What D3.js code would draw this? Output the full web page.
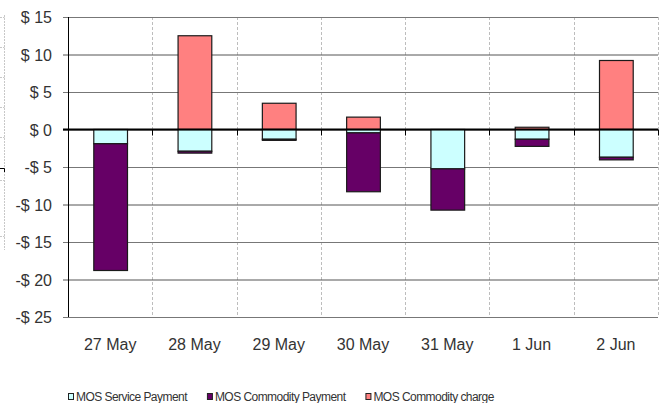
<!DOCTYPE html>
<html>
<head>
<meta charset="utf-8">
<script src="https://cdn.jsdelivr.net/npm/d3@7"></script>
<style>
  body { margin: 0; background: #fff; }
  svg { display: block; font-family: "Liberation Sans", Arial, sans-serif; }
  .axis text { fill: #333; font-size: 16px; }
  .legend text { fill: #333; font-size: 12px; letter-spacing: -0.55px; }
</style>
</head>
<body>
<svg id="chart"></svg>
<script>
// categories and series
const days = ['27 May', '28 May', '29 May', '30 May', '31 May', '1 Jun', '2 Jun'];
const servicePayment = [-1.9, -2.9, -1.3, -0.45, -5.25, -1.3, -3.7];
const commodityPayment = [-16.9, -0.25, -0.15, -7.85, -5.5, -0.95, -0.35];
const commodityCharge = [0, 12.5, 3.5, 1.65, 0, 0.3, 9.2];
const seriesNames = ['MOS Service Payment', 'MOS Commodity Payment', 'MOS Commodity charge'];
const seriesColors = ['#ccffff', '#660066', '#ff8080'];
const yTicks = [-25, -20, -15, -10, -5, 0, 5, 10, 15];

const config = {
  width: 663,
  height: 403,
  margin: {top: 17, right: 5, bottom: 86, left: 68}
};

const svg = d3.select('#chart')
    .attr('width', config.width)
    .attr('height', config.height);

// cropped remains of a frame at the very left edge of the picture
const edge = svg.append('g').attr('stroke', '#c8c8c8').attr('stroke-dasharray', '2,1');
edge.append('line').attr('x1', 4.5).attr('x2', 4.5).attr('y1', 15).attr('y2', 250);
[17, 47, 77, 107, 137, 180, 236].forEach(y => {
  edge.append('line').attr('x1', 0).attr('x2', 4.5).attr('y1', y + 0.5).attr('y2', y + 0.5);
});
svg.append('path').attr('d', 'M0,168.5H4.5V172').attr('fill', 'none').attr('stroke', '#000');

const width = config.width - config.margin.left - config.margin.right;
const height = config.height - config.margin.top - config.margin.bottom;

const chart = svg.append('g')
    .attr('transform', `translate(${config.margin.left},${config.margin.top})`);

const xScale = d3.scaleBand()
    .domain(days)
    .range([0, width])
    .paddingInner(0.6)
    .paddingOuter(0.3);

const yScale = d3.scaleLinear()
    .domain([-25, 15])
    .range([height, 0]);

// table for stacking
const table = days.map((d, i) => ({
  day: d,
  service: servicePayment[i],
  commodity: commodityPayment[i],
  charge: commodityCharge[i]
}));
const keys = ['service', 'commodity', 'charge'];
const stacked = d3.stack().keys(keys).offset(d3.stackOffsetDiverging)(table);

// vertical dashed category separators
const step = xScale.step();
const bounds = d3.range(1, days.length + 1).map(i => i * step);
chart.append('g')
  .selectAll('line')
  .data(bounds)
  .join('line')
    .attr('x1', d => Math.round(d) + 0.5)
    .attr('x2', d => Math.round(d) + 0.5)
    .attr('y1', 0)
    .attr('y2', height)
    .attr('stroke', '#bdbdbd')
    .attr('stroke-dasharray', '3,2');

// y axis with gridlines
const yAxis = d3.axisLeft(yScale)
    .tickValues(yTicks)
    .tickSize(-width - 5)
    .tickPadding(11)
    .tickFormat(d => (d < 0 ? '-' : '') + '$ ' + Math.abs(d));

const yAxisG = chart.append('g')
    .attr('class', 'axis y-axis')
    .attr('transform', 'translate(-5,0)')
    .call(yAxis)
    .call(g => g.select('.domain').remove());
yAxisG.selectAll('.tick line')
    .attr('stroke', (d, i) => i % 2 ? '#555' : '#777');
yAxisG.selectAll('.tick text')
    .attr('x', -11)
    .attr('dy', '0.36em');

// left axis line
chart.append('line')
    .attr('x1', 0.5).attr('x2', 0.5)
    .attr('y1', 0).attr('y2', height)
    .attr('stroke', '#000');

// bars
chart.append('g')
  .selectAll('g')
  .data(stacked)
  .join('g')
    .attr('fill', (d, i) => seriesColors[i])
  .selectAll('rect')
  .data(d => d)
  .join('rect')
    .attr('x', d => xScale(d.data.day) + 0.5)
    .attr('width', xScale.bandwidth())
    .attr('y', d => yScale(Math.max(d[0], d[1])))
    .attr('height', d => Math.abs(yScale(d[0]) - yScale(d[1])))
    .attr('stroke', '#1a1a1a')
    .attr('stroke-width', 1.2);

// zero line with small ticks
chart.append('line')
    .attr('x1', -5).attr('x2', width)
    .attr('y1', yScale(0)).attr('y2', yScale(0))
    .attr('stroke', '#000')
    .attr('stroke-width', 2);
chart.append('g')
  .selectAll('line')
  .data([0].concat(bounds))
  .join('line')
    .attr('x1', d => Math.round(d) + 0.5)
    .attr('x2', d => Math.round(d) + 0.5)
    .attr('y1', yScale(0))
    .attr('y2', yScale(0) + 6)
    .attr('stroke', '#000');

// x axis labels
const xAxis = d3.axisBottom(xScale).tickSize(0).tickPadding(22);
chart.append('g')
    .attr('class', 'axis x-axis')
    .attr('transform', `translate(0,${height})`)
    .call(xAxis)
    .call(g => g.select('.domain').remove());

// legend
const legend = svg.append('g')
    .attr('class', 'legend')
    .attr('transform', 'translate(68,393)');
let lx = 0;
seriesNames.forEach((name, i) => {
  const item = legend.append('g').attr('transform', `translate(${lx},0)`);
  item.append('rect')
      .attr('x', 0.5).attr('y', 0.5)
      .attr('width', 5).attr('height', 6)
      .attr('fill', seriesColors[i])
      .attr('stroke', '#222');
  const t = item.append('text')
      .attr('x', 8)
      .attr('y', 8)
      .text(name);
  lx += 8 + t.node().getComputedTextLength() + 20;
});
</script>
</body>
</html>
